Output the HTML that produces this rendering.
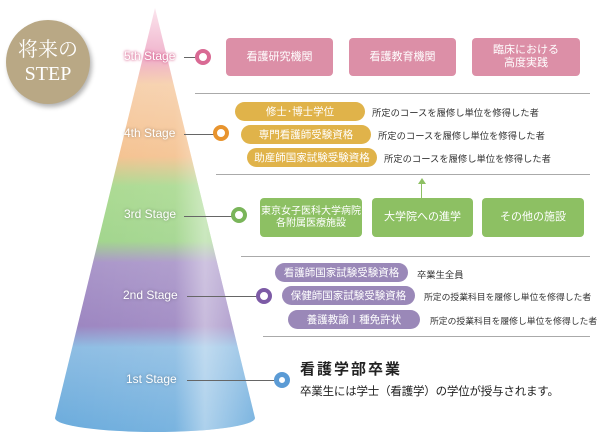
<!DOCTYPE html>
<html><head><meta charset="utf-8"><style>
body{margin:0;width:600px;height:448px;overflow:hidden;background:#fff;font-family:"Liberation Sans","Noto Sans CJK JP",sans-serif;position:relative}
.a{position:absolute}
.st{position:absolute;color:#fff;font-size:12px;text-shadow:0 0 3px rgba(0,0,0,.35);white-space:nowrap}
.dot{position:absolute;border-radius:50%;box-sizing:border-box;border:4px solid;background:#fff;width:16px;height:16px}
.ln{position:absolute;height:1px;background:#666}
.hr{position:absolute;height:1px;background:#aaa}
.box{position:absolute;color:#fff;font-size:11px;display:flex;align-items:center;justify-content:center;text-align:center;border-radius:4px;line-height:13px}
.pill{position:absolute;color:#fff;font-size:10.5px;display:flex;align-items:center;justify-content:center;border-radius:10px;height:19px}
.t{position:absolute;font-size:9.3px;color:#333;white-space:nowrap}
.t2{font-size:8.8px}
</style></head><body>
<svg class="a" style="left:0;top:0" width="600" height="448">
<defs>
<linearGradient id="g" x1="0" y1="0" x2="0" y2="1">
<stop offset="0" stop-color="#fbe3ec"/><stop offset=".12" stop-color="#eeaac6"/>
<stop offset=".18" stop-color="#f6cfaa"/><stop offset=".35" stop-color="#f4c08d"/>
<stop offset=".42" stop-color="#a9d98f"/><stop offset=".55" stop-color="#9fd48a"/>
<stop offset=".6" stop-color="#a894c8"/><stop offset=".75" stop-color="#9b84c0"/>
<stop offset=".8" stop-color="#8dbde3"/><stop offset="1" stop-color="#6aabdc"/>
</linearGradient>
<linearGradient id="h" x1="0" y1="0" x2="1" y2="0">
<stop offset="0" stop-color="#fff" stop-opacity=".0"/><stop offset=".6" stop-color="#fff" stop-opacity=".1"/><stop offset=".75" stop-color="#fff" stop-opacity=".45"/><stop offset="1" stop-color="#fff" stop-opacity=".1"/>
</linearGradient>
</defs>
<path d="M155 8 L255 418 A100 14 0 0 1 55 418 Z" fill="url(#g)"/>
<path d="M155 8 L255 418 A100 14 0 0 1 55 418 Z" fill="url(#h)"/>
</svg>
<div class="a" style="left:6px;top:20px;width:84px;height:84px;border-radius:50%;background:#b9a885;box-shadow:2px 3px 5px rgba(0,0,0,.3);color:#fff;font-family:'Liberation Serif','Noto Serif CJK SC',serif;font-size:20px;line-height:24px;text-align:center;display:flex;align-items:center;justify-content:center">将来の<br>STEP</div>

<div class="st" style="left:124px;top:49px;color:#fff;text-shadow:0 0 3px #d96a94,0 0 2px #d96a94">5th Stage</div>
<div class="ln" style="left:184px;top:57px;width:12px"></div>
<div class="dot" style="left:195px;top:49px;border-color:#d96a94"></div>
<div class="box" style="left:226px;top:38px;width:107px;height:38px;background:#dc8fa7">看護研究機関</div>
<div class="box" style="left:349px;top:38px;width:107px;height:38px;background:#dc8fa7">看護教育機関</div>
<div class="box" style="left:472px;top:38px;width:108px;height:38px;background:#dc8fa7">臨床における<br>高度実践</div>
<div class="hr" style="left:195px;top:93px;width:395px"></div>

<div class="st" style="left:124px;top:126px">4th Stage</div>
<div class="ln" style="left:184px;top:134px;width:30px"></div>
<div class="dot" style="left:213px;top:125px;border-color:#e8942e"></div>
<div class="pill" style="left:235px;top:102px;width:130px;background:#e0b34a">修士･博士学位</div><div class="t" style="left:372px;top:105px">所定のコースを履修し単位を修得した者</div>
<div class="pill" style="left:241px;top:125px;width:130px;background:#e0b34a">専門看護師受験資格</div><div class="t" style="left:378px;top:128px">所定のコースを履修し単位を修得した者</div>
<div class="pill" style="left:247px;top:148px;width:130px;background:#e0b34a">助産師国家試験受験資格</div><div class="t" style="left:384px;top:151px">所定のコースを履修し単位を修得した者</div>
<div class="hr" style="left:216px;top:174px;width:374px"></div>

<div class="st" style="left:124px;top:207px">3rd Stage</div>
<div class="ln" style="left:184px;top:216px;width:48px"></div>
<div class="dot" style="left:231px;top:207px;border-color:#7ab55a"></div>
<div class="box" style="left:260px;top:198px;width:102px;height:39px;background:#8dc063;font-size:10px;line-height:12px">東京女子医科大学病院<br>各附属医療施設</div>
<div class="box" style="left:372px;top:198px;width:101px;height:39px;background:#8dc063">大学院への進学</div>
<div class="box" style="left:482px;top:198px;width:102px;height:39px;background:#8dc063">その他の施設</div>
<div class="a" style="left:421px;top:182px;width:1px;height:16px;background:#8dc063"></div>
<div class="a" style="left:418px;top:178px;width:0;height:0;border-left:4px solid transparent;border-right:4px solid transparent;border-bottom:6px solid #8dc063"></div>
<div class="hr" style="left:241px;top:256px;width:349px"></div>

<div class="st" style="left:123px;top:288px">2nd Stage</div>
<div class="ln" style="left:187px;top:296px;width:70px"></div>
<div class="dot" style="left:256px;top:288px;border-color:#7d5ba6"></div>
<div class="pill" style="left:275px;top:263px;width:133px;background:#9a88b8">看護師国家試験受験資格</div><div class="t" style="left:417px;top:267px">卒業生全員</div>
<div class="pill" style="left:282px;top:286px;width:133px;background:#9a88b8">保健師国家試験受験資格</div><div class="t t2" style="left:424px;top:290px">所定の授業科目を履修し単位を修得した者</div>
<div class="pill" style="left:288px;top:310px;width:132px;background:#9a88b8">養護教諭Ⅰ種免許状</div><div class="t t2" style="left:430px;top:314px">所定の授業科目を履修し単位を修得した者</div>
<div class="hr" style="left:263px;top:336px;width:327px"></div>

<div class="st" style="left:126px;top:372px">1st Stage</div>
<div class="ln" style="left:187px;top:380px;width:88px"></div>
<div class="dot" style="left:274px;top:372px;border-color:#5b9bd5;border-width:5px"></div>
<div class="t" style="left:300px;top:358px;font-size:15px;letter-spacing:2px;color:#222;font-weight:bold">看護学部卒業</div>
<div class="t" style="left:300px;top:383px;font-size:11.5px;color:#222;letter-spacing:-0.2px">卒業生には学士（看護学）の学位が授与されます。</div>
</body></html>
